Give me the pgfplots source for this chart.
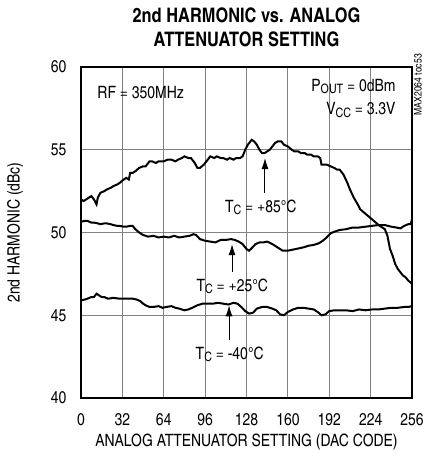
\documentclass[border=0pt]{standalone}
\usepackage{pgfplots}
\pgfplotsset{compat=1.18}
\usepackage{fontspec}
\setmainfont{TeX Gyre Heros Cn}
\usetikzlibrary{arrows.meta}
\definecolor{gridc}{RGB}{130,130,130}
\newcommand\sub[1]{\raisebox{-0.25ex}{\fontsize{13}{14}\selectfont #1}}
\begin{document}
\begin{tikzpicture}
\useasboundingbox (-81pt,-64pt) rectangle (344pt,398pt);
\begin{axis}[
  scale only axis, width=331pt, height=331pt,
  xmin=0, xmax=256, ymin=40, ymax=60,
  xtick={0,32,...,256}, ytick={40,45,...,60},
  axis line style={draw=black, line width=2pt},
  major tick length=0pt,
  /pgf/number format/assume math mode=true,
  ticklabel style={font=\fontsize{17}{19}\selectfont},
  xticklabel style={anchor=center, yshift=-22pt},
  yticklabel style={anchor=east, xshift=-11pt},
  xlabel={ANALOG ATTENUATOR SETTING (DAC CODE)},
  ylabel={2nd HARMONIC (dBc)},
  every axis x label/.style={at={([yshift=-44pt]axis description cs:0.5,0)}, anchor=center, font=\fontsize{17}{19}\selectfont},
  every axis y label/.style={at={([xshift=-66pt]axis description cs:0,0.5)}, anchor=center, rotate=90, font=\fontsize{17}{19}\selectfont},
  clip=false,
]
\draw[gridc, line width=1pt] (axis cs:32,40) -- (axis cs:32,60);
\draw[gridc, line width=1pt] (axis cs:64,40) -- (axis cs:64,60);
\draw[gridc, line width=1pt] (axis cs:96,40) -- (axis cs:96,60);
\draw[gridc, line width=1pt] (axis cs:128,40) -- (axis cs:128,60);
\draw[gridc, line width=1pt] (axis cs:160,40) -- (axis cs:160,60);
\draw[gridc, line width=1pt] (axis cs:192,40) -- (axis cs:192,60);
\draw[gridc, line width=1pt] (axis cs:224,40) -- (axis cs:224,60);
\draw[gridc, line width=1pt] (axis cs:0,45) -- (axis cs:256,45);
\draw[gridc, line width=1pt] (axis cs:0,50) -- (axis cs:256,50);
\draw[gridc, line width=1pt] (axis cs:0,55) -- (axis cs:256,55);
\draw[black, line width=2pt] (axis cs:0,40) rectangle (axis cs:256,60);
% +85C
\addplot[black, line width=2pt] coordinates {
(0,52.0)(2,51.9)(4,52.0)(6,52.1)(8,52.2)(10,52.0)(12,51.7)(13,52.1)(15,52.4)(18,52.5)(20,52.6)(23,52.7)(25,52.8)(28,52.9)(30,53.0)(33,53.2)(35,53.3)(37,53.2)(38,53.6)(40,53.6)(42,53.7)(45,53.9)(48,54.0)(50,54.0)(53,54.3)(55,54.3)(58,54.2)(60,54.3)(64,54.3)(67,54.4)(70,54.4)(73,54.3)(75,54.4)(78,54.5)(80,54.6)(83,54.5)(85,54.5)(88,54.2)(90,53.9)(92,53.9)(95,54.1)(98,54.4)(100,54.6)(103,54.5)(105,54.6)(108,54.5)(110,54.5)(113,54.4)(115,54.5)(118,54.4)(120,54.5)(123,54.5)(125,54.6)(127,55.0)(129,55.3)(132,55.6)(134,55.5)(136,55.3)(138,55.0)(140,54.8)(142,54.8)(144,54.9)(146,55.0)(148,55.2)(150,55.4)(152,55.5)(155,55.5)(157,55.3)(160,55.2)(163,55.0)(165,54.9)(168,54.9)(170,54.8)(173,54.8)(175,54.7)(178,54.7)(180,54.6)(183,54.6)(185,54.5)(186,54.1)(188,54.1)(190,54.1)(193,54.0)(196,53.9)(198,53.8)(200,53.8)(203,53.5)(206,53.0)(208,52.6)(211,52.1)(214,51.7)(216,51.4)(219,51.2)(222,51.0)(225,50.8)(228,50.6)(231,50.4)(235,50.2)(237,49.8)(239,49.0)(241,48.6)(243,48.1)(245,47.8)(247,47.6)(249,47.4)(251,47.3)(253,47.1)(256,46.9)
};
% +25C
\addplot[black, line width=2pt] coordinates {
(0,50.65)(3,50.7)(5,50.7)(8,50.6)(10,50.6)(13,50.55)(15,50.5)(18,50.55)(20,50.55)(23,50.5)(25,50.45)(28,50.4)(30,50.4)(33,50.35)(35,50.35)(38,50.4)(40,50.4)(42,50.2)(45,50.0)(48,49.85)(50,49.8)(52,49.75)(56,49.8)(60,49.7)(64,49.75)(68,49.7)(72,49.8)(76,49.7)(80,49.75)(84,49.8)(87,49.9)(89,49.85)(92,49.6)(96,49.5)(100,49.45)(104,49.4)(108,49.55)(112,49.55)(116,49.6)(119,49.55)(122,49.45)(125,49.3)(128,49.0)(130,48.9)(132,49.05)(135,49.3)(138,49.4)(141,49.4)(144,49.45)(148,49.3)(152,49.1)(156,48.9)(160,48.9)(163,48.95)(166,49.0)(169,49.05)(172,49.1)(176,49.2)(180,49.25)(184,49.35)(187,49.5)(190,49.7)(193,49.95)(196,50.05)(200,50.15)(205,50.2)(210,50.3)(215,50.3)(220,50.35)(225,50.4)(230,50.45)(235,50.45)(240,50.35)(244,50.3)(247,50.25)(250,50.4)(253,50.5)(255,50.5)(256,50.8)
};
% -40C
\addplot[black, line width=2pt] coordinates {
(0,45.9)(3,45.95)(5,46.0)(8,46.1)(10,46.1)(12,46.3)(14,46.2)(16,46.1)(18,46.1)(21,46.0)(25,46.05)(30,46.0)(35,46.0)(40,46.0)(43,45.95)(46,45.85)(48,45.7)(50,45.6)(53,45.5)(56,45.5)(60,45.55)(63,45.45)(66,45.5)(70,45.55)(73,45.45)(76,45.4)(80,45.3)(83,45.35)(86,45.45)(90,45.6)(94,45.7)(98,45.7)(102,45.7)(106,45.75)(110,45.7)(114,45.65)(118,45.75)(121,45.7)(124,45.5)(127,45.25)(130,45.1)(133,45.15)(136,45.4)(140,45.5)(144,45.5)(148,45.4)(151,45.3)(154,45.05)(157,45.0)(160,45.2)(164,45.35)(168,45.45)(172,45.45)(176,45.4)(180,45.35)(183,45.2)(186,45.0)(189,45.05)(192,45.25)(196,45.3)(200,45.3)(205,45.3)(210,45.25)(215,45.35)(220,45.3)(225,45.35)(230,45.35)(235,45.4)(240,45.45)(245,45.45)(250,45.5)(253,45.5)(256,45.55)
};
% arrows
\draw[line width=1pt, -{Latex[length=11pt,width=7pt]}] (axis cs:142.3,52.4) -- (axis cs:142.3,54.5);
\draw[line width=1pt, -{Latex[length=11pt,width=7pt]}] (axis cs:116.8,47.6) -- (axis cs:116.8,49.3);
\draw[line width=1pt, -{Latex[length=11pt,width=7pt]}] (axis cs:114.5,43.5) -- (axis cs:114.5,45.6);
\node[font=\fontsize{17}{19}\selectfont] at (axis cs:139,51.5) {T\sub{C} = +85°C};
\node[font=\fontsize{17}{19}\selectfont] at (axis cs:117,46.75) {T\sub{C} = +25°C};
\node[font=\fontsize{17}{19}\selectfont] at (axis cs:115,42.65) {T\sub{C} = -40°C};
\node[font=\fontsize{17}{19}\selectfont, anchor=west] at (axis cs:10,58.43) {RF = 350MHz};
\node[font=\fontsize{17}{19}\selectfont, anchor=east] at (axis cs:246,58.8) {P\sub{OUT} = 0dBm};
\node[font=\fontsize{17}{19}\selectfont, anchor=east] at (axis cs:246,57.4) {V\sub{CC} = 3.3V};
\node[font=\fontsize{10.5}{11}\selectfont, rotate=90, anchor=north east, inner sep=0pt] at (axis cs:256,60) [xshift=13pt, yshift=-2pt] {MAX2064 toc53};
\end{axis}
\node[font=\fontsize{20}{24}\bfseries, align=center] at (165.5pt,371pt) {2nd HARMONIC vs. ANALOG\\ATTENUATOR SETTING};
\end{tikzpicture}
\end{document}
